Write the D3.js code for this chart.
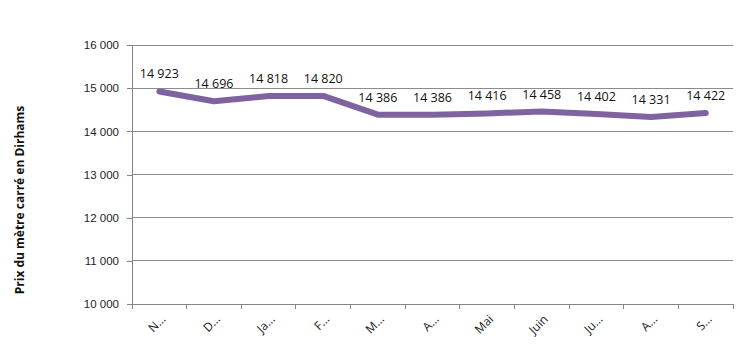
<!DOCTYPE html>
<html>
<head>
<meta charset="utf-8">
<script src="https://cdn.jsdelivr.net/npm/d3@7"></script>
<style>
  body { margin: 0; background: #fff; }
  svg { display: block; font-family: "Open Sans", "DejaVu Sans", sans-serif; }
</style>
</head>
<body>
<div id="chart"></div>
<script>
// months (labels truncated as in the source chart)
const months = ["N…", "D…", "Ja…", "F…", "M…", "A…", "Mai", "Juin", "Ju…", "A…", "S…"];
const prices = [14923, 14696, 14818, 14820, 14386, 14386, 14416, 14458, 14402, 14331, 14422];
const yTicks = [10000, 11000, 12000, 13000, 14000, 15000, 16000];

const width = 755, height = 363;
const margin = { top: 45, right: 22, bottom: 59, left: 132 };

const svg = d3.select("#chart").append("svg")
    .attr("width", width)
    .attr("height", height);

// two months share the label "A…", so the band scale runs on indices
const x = d3.scaleBand().domain(d3.range(months.length)).range([margin.left, width - margin.right]);
const y = d3.scaleLinear().domain([10000, 16000]).range([height - margin.bottom, margin.top]);
const cx = i => x(i) + x.bandwidth() / 2;

const fmt = v => d3.format(",")(v).replace(/,/g, " ");

// gridlines
svg.append("g")
    .selectAll("line")
    .data(yTicks.slice(1))
    .join("line")
    .attr("x1", margin.left).attr("x2", width - margin.right)
    .attr("y1", d => y(d)).attr("y2", d => y(d))
    .attr("stroke", "#8c8c8c").attr("stroke-width", 1)
    .attr("shape-rendering", "crispEdges");

// y axis
const yAxis = svg.append("g")
    .attr("transform", `translate(${margin.left},0)`)
    .call(d3.axisLeft(y).tickValues(yTicks).tickSize(5).tickPadding(8).tickFormat(fmt));
yAxis.selectAll("line, path").attr("stroke", "#868686").attr("shape-rendering", "crispEdges");
yAxis.select(".domain").attr("d", `M0,${y(16000)}V${y(10000)}`);
yAxis.selectAll("text").attr("font-size", 11.5).attr("fill", "#222");

// x axis, ticks at band edges
const edges = d3.range(months.length).map(i => x(i)).concat([x.range()[1]]);
const xg = svg.append("g").attr("transform", `translate(0,${y(10000)})`);
xg.append("line")
    .attr("x1", margin.left).attr("x2", width - margin.right)
    .attr("stroke", "#868686").attr("shape-rendering", "crispEdges");
xg.selectAll(".tk")
    .data(edges)
    .join("line")
    .attr("class", "tk")
    .attr("x1", d => d).attr("x2", d => d)
    .attr("y1", 0).attr("y2", 5)
    .attr("stroke", "#868686").attr("shape-rendering", "crispEdges");
xg.selectAll(".lbl")
    .data(months)
    .join("text")
    .attr("class", "lbl")
    .attr("transform", (d, i) => `translate(${cx(i) + 7},${16}) rotate(-45)`)
    .attr("text-anchor", "end")
    .attr("font-size", 12)
    .attr("fill", "#222")
    .text(d => d);

// y axis title
svg.append("text")
    .attr("transform", `translate(24,200) rotate(-90)`)
    .attr("text-anchor", "middle")
    .attr("font-size", 12)
    .attr("font-weight", "bold")
    .attr("fill", "#111")
    .text("Prix du mètre carré en Dirhams");

// line
const line = d3.line()
    .x((d, i) => cx(i))
    .y(d => y(d));

svg.append("path")
    .datum(prices)
    .attr("fill", "none")
    .attr("stroke", "#7f62a0")
    .attr("stroke-width", 6)
    .attr("stroke-linecap", "round")
    .attr("stroke-linejoin", "round")
    .attr("d", line);

// data labels
svg.append("g")
    .selectAll("text")
    .data(prices)
    .join("text")
    .attr("x", (d, i) => cx(i))
    .attr("y", d => y(d) - 13)
    .attr("text-anchor", "middle")
    .attr("font-size", 12.5)
    .attr("fill", "#111")
    .text(fmt);
</script>
</body>
</html>
